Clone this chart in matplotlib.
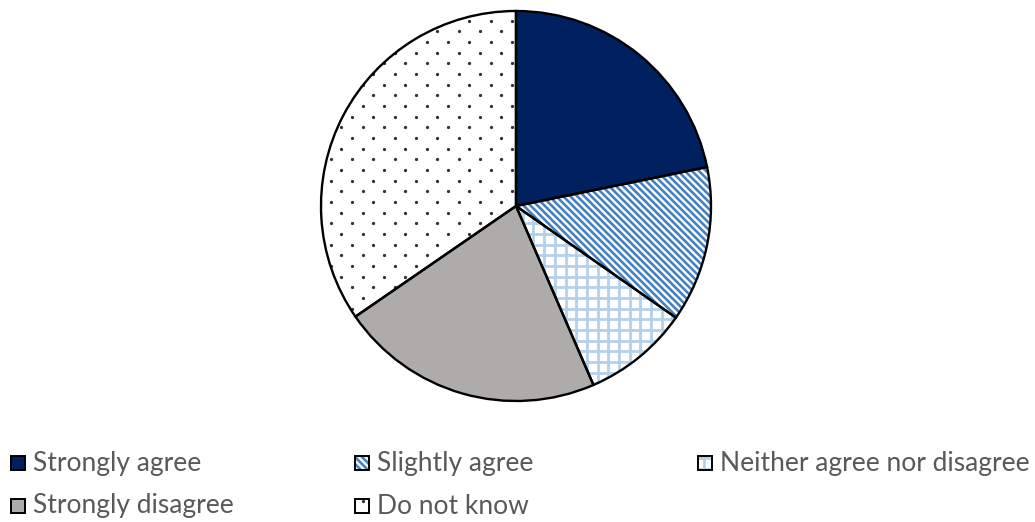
import matplotlib
matplotlib.use("Agg")
import matplotlib.pyplot as plt
import numpy as np
from matplotlib.collections import LineCollection
from matplotlib.patches import Rectangle

labels = ["Strongly agree", "Slightly agree", "Neither agree nor disagree",
          "Strongly disagree", "Do not know"]
shares = [21.8, 12.9, 8.8, 21.9, 34.6]
fills = ["#002060", "white", "white", "#AEABAB", "white"]
patterns = [None, "stripes", "grid", None, "dots"]

W, H = 1035, 522
TEXT = "#595959"


def patch_bounds(patch):
    pts = patch.get_patch_transform().transform(patch.get_path().vertices)
    return pts[:, 0].min(), pts[:, 1].min(), pts[:, 0].max(), pts[:, 1].max()


def add_pattern(ax, patch, kind):
    # pattern is laid on a fixed pixel grid and clipped to the patch
    if kind is None:
        return
    x0, y0, x1, y1 = patch_bounds(patch)
    if kind == "stripes":
        step = 7.0
        cs = np.arange(np.floor((x0 + y0) / step) * step, x1 + y1 + step, step)
        segs = [[(c - y0, y0), (c - y1, y1)] for c in cs]
        art = LineCollection(segs, colors="#4682C2", linewidths=1.9, zorder=1.5)
    elif kind == "grid":
        step = 10.67
        xs = np.arange(np.floor(x0 / step) * step, x1 + step, step)
        ys = np.arange(np.floor(y0 / step) * step, y1 + step, step)
        segs = [[(x, y0), (x, y1)] for x in xs] + [[(x0, y), (x1, y)] for y in ys]
        art = LineCollection(segs, colors="#B4D1EC", linewidths=2.0, zorder=1.5)
    else:
        row = 10.67
        pts = []
        for i, y in enumerate(np.arange(np.floor(y0 / row) * row, y1 + row, row)):
            off = (i % 2) * row
            for x in np.arange(np.floor(x0 / (2 * row)) * 2 * row + off, x1 + 2 * row, 2 * row):
                pts.append((x, y))
        pts = np.array(pts)
        art = ax.scatter(pts[:, 0], pts[:, 1], s=5.5, c="#333333", linewidths=0, zorder=1.5)
    if kind != "dots":
        ax.add_collection(art)
    art.set_clip_path(patch)


fig = plt.figure(figsize=(W / 100, H / 100), dpi=100)
ax = fig.add_axes([0, 0, 1, 1])

cx, cy, r = 516, 316, 195
wedges, _ = ax.pie(shares, colors=fills, startangle=90, counterclock=False,
                   center=(cx, cy), radius=r, frame=False,
                   wedgeprops=dict(linewidth=0))
for w, kind in zip(wedges, patterns):
    add_pattern(ax, w, kind)
ax.pie(shares, colors=["none"] * len(shares), startangle=90, counterclock=False,
       center=(cx, cy), radius=r, frame=False,
       wedgeprops=dict(linewidth=1.7, edgecolor="black", zorder=3))

# legend, three columns over two rows
col_x = [11, 355, 698]
row_y = [H - 463, H - 506]
box = 14
for i, (lab, fc, kind) in enumerate(zip(labels, fills, patterns)):
    x = col_x[i % 3]
    y = row_y[i // 3]
    sq = Rectangle((x, y - box / 2), box, box, facecolor=fc, edgecolor="none", zorder=1)
    ax.add_patch(sq)
    add_pattern(ax, sq, kind)
    ax.add_patch(Rectangle((x, y - box / 2), box, box, facecolor="none",
                           edgecolor="black", linewidth=1.4, zorder=3))
    ax.text(x + box + 8, y, lab, fontsize=19, color=TEXT, family="Lato",
            va="center", ha="left")

ax.set_xlim(0, W)
ax.set_ylim(0, H)
ax.set_aspect("equal")
ax.axis("off")
fig.savefig("out.png", dpi=100)
